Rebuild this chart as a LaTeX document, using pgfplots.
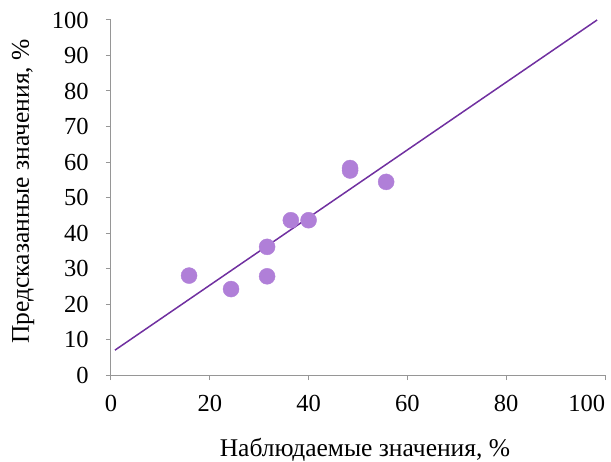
\documentclass[border=0pt]{standalone}
\usepackage{fontspec}
\setmainfont{Liberation Serif}
\usepackage{pgfplots}
\pgfplotsset{compat=1.18}
\definecolor{ptcol}{RGB}{176,127,216}
\definecolor{lncol}{RGB}{112,48,160}
\definecolor{axcol}{RGB}{150,150,150}
\begin{document}
\fontsize{24.5}{28}\selectfont
\begin{tikzpicture}
\useasboundingbox (-111pt,-86pt) rectangle (500pt,375pt);
\begin{axis}[
  at={(0pt,0pt)}, anchor=south west,
  scale only axis, width=494pt, height=355pt,
  xmin=0, xmax=100, ymin=0, ymax=100,
  xtick={0,20,...,100}, ytick={0,10,...,100},
  xticklabels={0,20,40,60,80,\llap{100}},
  axis x line*=bottom, axis y line*=left,
  axis line style={axcol, line width=1pt},
  tick style={axcol, line width=1pt},
  tick align=outside, major tick length=5pt,
  /pgf/number format/assume math mode=true,
  ticklabel style={font=\fontsize{24.5}{28}\selectfont},
  yticklabel style={xshift=-9pt},
  xticklabel style={yshift=-7pt},
  xlabel={Наблюдаемые значения, \%},
  ylabel={Предсказанные значения, \%},
  label style={font=\fontsize{25.5}{29}\selectfont},
  xlabel style={at={(axis description cs:0.514,0)}, anchor=base, yshift=-81pt},
  ylabel style={at={(axis description cs:-0.166,0.517)}, anchor=base, rotate=0},
  clip=false,
]
\addplot[lncol, line width=1.5pt] coordinates {(0.8,7.0) (98.4,100)};
\addplot[only marks, color=ptcol, mark=*, mark size=8pt, mark options={fill=ptcol, draw=ptcol}] coordinates {
(15.8,28.0)
(24.3,24.2)
(31.6,36.1)
(31.6,27.8)
(36.4,43.6)
(40.0,43.6)
(48.4,58.3)
(48.4,57.6)
(55.7,54.4)
};
\end{axis}
\end{tikzpicture}
\end{document}
